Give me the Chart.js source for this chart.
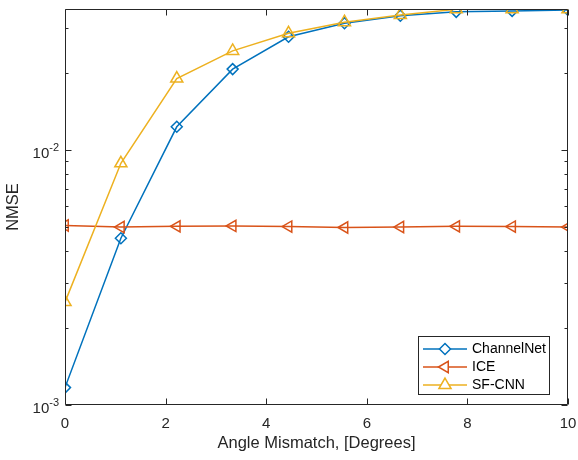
<!DOCTYPE html>
<html>
<head>
<meta charset="utf-8">
<script src="https://cdn.jsdelivr.net/npm/chart.js@4.4.1/dist/chart.umd.min.js"></script>
<style>
  html, body { margin: 0; padding: 0; background: #ffffff; }
  #wrap { width: 578px; height: 460px; }
</style>
</head>
<body>
<div id="wrap"><canvas id="c" width="578" height="460"></canvas></div>
<script>
// ---------------- data ----------------
const angles     = [0, 1.111, 2.222, 3.333, 4.444, 5.556, 6.667, 7.778, 8.889, 10];
const channelNet = [1.17e-3, 4.50e-3, 12.3e-3, 20.7e-3, 27.7e-3, 31.3e-3, 33.5e-3, 34.7e-3, 35.0e-3, 35.3e-3];
const ice        = [5.05e-3, 4.98e-3, 5.01e-3, 5.03e-3, 5.00e-3, 4.96e-3, 4.98e-3, 5.01e-3, 5.00e-3, 4.98e-3];
const sfCnn      = [2.53e-3, 8.85e-3, 19.0e-3, 24.4e-3, 28.6e-3, 31.6e-3, 33.7e-3, 35.5e-3, 35.5e-3, 35.5e-3];
const seriesNames = ['ChannelNet', 'ICE', 'SF-CNN'];
const xTickValues = [0, 2, 4, 6, 8, 10];
const yMajorValues = [1e-3, 1e-2];
const yMajorLabels = [['10', '-3'], ['10', '-2']];
const yMinorValues = [2e-3, 3e-3, 4e-3, 5e-3, 6e-3, 7e-3, 8e-3, 9e-3, 2e-2, 3e-2];
const xTitle = 'Angle Mismatch, [Degrees]';
const yTitle = 'NMSE';

// ---------------- style ----------------
const FONT = '"Liberation Sans", Arial, Helvetica, sans-serif';
const AXIS_COLOR = '#262626';
const BLUE = '#0072BD', ORANGE = '#D95319', YELLOW = '#EDB120';

const toPoints = ys => angles.map((x, i) => ({ x: x, y: ys[i] }));

const matlabAxes = {
  id: 'matlabAxes',
  afterDatasetsDraw(chart) {
    const ctx = chart.ctx;
    const a = chart.chartArea;
    const xs = chart.scales.x, ys = chart.scales.y;
    const L = Math.round(a.left) + 0.5, R = Math.round(a.right) - 0.5;
    const T = Math.round(a.top) + 0.5, B = Math.round(a.bottom) - 0.5;
    ctx.save();
    ctx.strokeStyle = AXIS_COLOR;
    ctx.lineWidth = 1;
    ctx.beginPath();
    ctx.rect(L, T, R - L, B - T);
    ctx.stroke();
    const major = 6, minor = 3;
    ctx.beginPath();
    xTickValues.forEach(v => {
      const px = Math.round(xs.getPixelForValue(v)) + 0.5;
      ctx.moveTo(px, B); ctx.lineTo(px, B - major);
      ctx.moveTo(px, T); ctx.lineTo(px, T + major);
    });
    yMajorValues.forEach(v => {
      const py = Math.round(ys.getPixelForValue(v)) + 0.5;
      ctx.moveTo(L, py); ctx.lineTo(L + major, py);
      ctx.moveTo(R, py); ctx.lineTo(R - major, py);
    });
    yMinorValues.forEach(v => {
      const py = Math.round(ys.getPixelForValue(v)) + 0.5;
      ctx.moveTo(L, py); ctx.lineTo(L + minor, py);
      ctx.moveTo(R, py); ctx.lineTo(R - minor, py);
    });
    ctx.stroke();

    // y tick labels with superscripts
    ctx.fillStyle = AXIS_COLOR;
    yMajorValues.forEach((v, i) => {
      const py = ys.getPixelForValue(v);
      const [base, exp] = yMajorLabels[i];
      ctx.textBaseline = 'middle';
      ctx.textAlign = 'right';
      ctx.font = '11px ' + FONT;
      const supRight = a.left - 6;
      ctx.fillText(exp, supRight, py - 2);
      const wExp = ctx.measureText(exp).width;
      ctx.font = '15px ' + FONT;
      ctx.fillText(base, supRight - wExp, py + 4);
    });
    ctx.restore();
  },
  afterDraw(chart) {
    // legend
    const ctx = chart.ctx;
    const bx = 418.5, by = 336.5, bw = 131, bh = 58;
    ctx.save();
    ctx.fillStyle = '#ffffff';
    ctx.fillRect(bx, by, bw, bh);
    ctx.strokeStyle = AXIS_COLOR;
    ctx.lineWidth = 1;
    ctx.strokeRect(bx, by, bw, bh);
    const rows = [349, 367, 385];
    chart.data.datasets.forEach((ds, i) => {
      const y = rows[i];
      ctx.strokeStyle = ds.borderColor;
      ctx.lineWidth = 1.5;
      ctx.beginPath();
      ctx.moveTo(423, y); ctx.lineTo(467, y);
      ctx.stroke();
      ctx.fillStyle = '#ffffff';
      Chart.helpers.drawPoint(ctx, {
        pointStyle: ds.pointStyle,
        rotation: ds.pointRotation || 0,
        radius: ds.pointRadius,
        borderWidth: 1.5
      }, 445, y);
      ctx.fillStyle = '#000000';
      ctx.font = '14px ' + FONT;
      ctx.textAlign = 'left';
      ctx.textBaseline = 'middle';
      ctx.fillText(ds.label, 472, y + 0.5);
    });
    ctx.restore();
  }
};

const commonDs = {
  borderWidth: 1.5,
  pointBorderWidth: 1.5,
  pointBackgroundColor: 'rgba(0,0,0,0)',
  fill: false,
  tension: 0
};

new Chart(document.getElementById('c'), {
  type: 'line',
  data: {
    datasets: [
      Object.assign({}, commonDs, {
        label: seriesNames[0], data: toPoints(channelNet),
        borderColor: BLUE, pointBorderColor: BLUE,
        pointStyle: 'rectRot', pointRadius: 5.5, order: 3
      }),
      Object.assign({}, commonDs, {
        label: seriesNames[1], data: toPoints(ice),
        borderColor: ORANGE, pointBorderColor: ORANGE,
        pointStyle: 'triangle', pointRotation: -90, pointRadius: 6.5, order: 2
      }),
      Object.assign({}, commonDs, {
        label: seriesNames[2], data: toPoints(sfCnn),
        borderColor: YELLOW, pointBorderColor: YELLOW,
        pointStyle: 'triangle', pointRadius: 7, order: 1
      })
    ]
  },
  options: {
    responsive: false,
    animation: false,
    devicePixelRatio: 1,
    layout: { padding: { left: 0, top: 9, right: 10, bottom: 0 } },
    plugins: { legend: { display: false }, tooltip: { enabled: false } },
    elements: { point: { hoverRadius: 0 } },
    scales: {
      x: {
        type: 'linear', min: 0, max: 10,
        afterFit: s => { s.height = 55; s.paddingLeft = 0; s.paddingRight = 0; },
        afterBuildTicks: s => { s.ticks = xTickValues.map(v => ({ value: v })); },
        grid: { display: false, drawTicks: false },
        border: { display: false },
        ticks: {
          color: AXIS_COLOR, padding: 10, maxRotation: 0,
          font: { family: FONT, size: 15 },
          callback: v => String(v)
        },
        title: {
          display: true, text: xTitle, color: AXIS_COLOR,
          font: { family: FONT, size: 16.5 },
          padding: { top: 4, bottom: 7 }
        }
      },
      y: {
        type: 'logarithmic', min: 1e-3, max: 0.0356,
        afterFit: s => { s.width = 65; s.paddingTop = 0; s.paddingBottom = 0; },
        grid: { display: false, drawTicks: false },
        border: { display: false },
        ticks: { display: false },
        title: {
          display: true, text: yTitle, color: AXIS_COLOR,
          font: { family: FONT, size: 16.5 },
          padding: { top: 4, bottom: 4 }
        }
      }
    }
  },
  plugins: [matlabAxes]
});
</script>
</body>
</html>
